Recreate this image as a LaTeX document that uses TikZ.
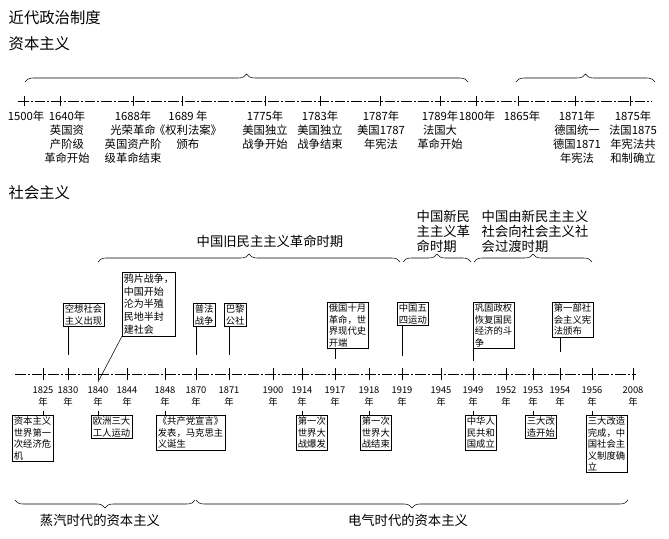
\documentclass[tikz,border=0pt]{standalone}
\usepackage{fontspec}
\setmainfont{Noto Sans CJK SC}
\usetikzlibrary{decorations.pathreplacing}
\tikzset{
  evbox/.style={draw,thin,inner sep=1.2pt,align=left,font=\fontsize{7}{8.6}\selectfont},
  yearlab/.style={align=center,font=\fontsize{7}{9}\selectfont},
  toplab/.style={align=center,font=\fontsize{8.5}{10.5}\selectfont},
  tline/.style={thin,dash pattern=on 8pt off 1.5pt on 1.5pt off 1.5pt},
  upbrace/.style={decorate,decoration={brace,amplitude=6pt},thin},
  dnbrace/.style={decorate,decoration={brace,amplitude=6pt,mirror},thin},
  head/.style={anchor=west,font=\fontsize{11.5}{13}\selectfont},
  perlab/.style={align=left,font=\fontsize{10}{11.2}\selectfont}
}
\begin{document}
\begin{tikzpicture}[x=0.75pt,y=-0.75pt]
  \useasboundingbox (0,0) rectangle (669,539);
  % headings
  \node[head] (h1) at (4,18) {近代政治制度};
  \node[head] (h2) at (4,44) {资本主义};
  \node[head] (h3) at (4,193) {社会主义};

  % capitalism timeline
  \draw[tline] (18,101) -- (652,101);
  \foreach \x in {24,60,133,182,265,320,380,440,476,518,575,630}
    \draw (\x,96) -- (\x,106);
  \node[toplab,anchor=north] (c1500) at (26,106) {1500年};
  \node[toplab,anchor=north] (c1640) at (67,106) {1640年\\英国资\\产阶级\\革命开始};
  \node[toplab,anchor=north] (c1688) at (133,106) {1688年\\光荣革命\\英国资产阶\\级革命结束};
  \node[toplab,anchor=north] (c1689) at (188,106) {1689 年\\《权利法案》\\颁布};
  \node[toplab,anchor=north] (c1775) at (265,106) {1775年\\美国独立\\战争开始};
  \node[toplab,anchor=north] (c1783) at (320,106) {1783年\\美国独立\\战争结束};
  \node[toplab,anchor=north] (c1787) at (381,106) {1787年\\美国1787\\年宪法};
  \node[toplab,anchor=north] (c1789) at (440,106) {1789年\\法国大\\革命开始};
  \node[toplab,anchor=north] (c1800) at (477,106) {1800年};
  \node[toplab,anchor=north] (c1865) at (522,106) {1865年};
  \node[toplab,anchor=north] (c1871) at (577,106) {1871年\\德国统一\\德国1871\\年宪法};
  \node[toplab,anchor=north] (c1875) at (633,106) {1875年\\法国1875\\年宪法共\\和制确立};
  \draw[upbrace] (25,82) -- (468,82);
  \draw[upbrace] (516,82) -- (655,82);

  % socialism timeline
  \draw[tline] (15,374) -- (636,374);
  \foreach \x/\y in {43/1825,68/1830,98/1840,127/1844,165/1848,196/1870,229/1871,273/1900,
      302/1914,335/1917,369/1918,402/1919,441/1945,473/1949,506/1952,533/1953,560/1954,592/1956,633/2008}{
    \draw (\x,368) -- (\x,380);
    \coordinate (t\y) at (\x,374);
    \node[yearlab,anchor=north] (y\y) at (\x,382) {\y\\年};
  }

  % events above
  \node[evbox,anchor=north west] (e1830) at (63,303) {空想社会\\主义出现};
  \node[evbox,anchor=north west,font=\fontsize{7.5}{9.6}\selectfont] (e1840) at (122,272) {鸦片战争，\\中国开始\\沦为半殖\\民地半封\\建社会};
  \node[evbox,anchor=north west] (e1870) at (193,303) {普法\\战争};
  \node[evbox,anchor=north west] (e1871) at (224,303) {巴黎\\公社};
  \node[evbox,anchor=north west] (e1917) at (327,302) {俄国十月\\革命，世\\界现代史\\开端};
  \node[evbox,anchor=north west] (e1919) at (397,302) {中国五\\四运动};
  \node[evbox,anchor=north west] (e1949) at (473,302) {巩固政权\\恢复国民\\经济的斗\\争};
  \node[evbox,anchor=north west] (e1954) at (552,302) {第一部社\\会主义宪\\法颁布};
  \draw (e1830.south -| t1830) -- ++(0,28);
  \draw (e1840.south west) -- ([yshift=-6pt]t1840);
  \draw (e1870.south -| t1870) -- ++(0,28);
  \draw (e1871.south -| t1871) -- ++(0,28);
  \draw (e1917.south -| t1917) -- ++(0,10);
  \draw (e1919.south -| t1919) -- ++(0,30);
  \draw (e1949.south -| t1949) -- ++(0,12);
  \draw (e1954.south -| t1954) -- ++(0,15);

  % events below
  \node[evbox,anchor=north west] (b1825) at (12,415) {资本主义\\世界第一\\次经济危\\机};
  \node[evbox,anchor=north west] (b1840) at (91,415) {欧洲三大\\工人运动};
  \node[evbox,anchor=north west] (b1848) at (156,415) {《共产党宣言》\\发表，马克思主\\义诞生};
  \node[evbox,anchor=north west] (b1914) at (296,415) {第一次\\世界大\\战爆发};
  \node[evbox,anchor=north west] (b1918) at (360,415) {第一次\\世界大\\战结束};
  \node[evbox,anchor=north west] (b1949) at (465,415) {中华人\\民共和\\国成立};
  \node[evbox,anchor=north west] (b1953) at (525,415) {三大改\\造开始};
  \node[evbox,anchor=north west] (b1956) at (586,415) {三大改造\\完成，中\\国社会主\\义制度确\\立};
  \foreach \y in {1825,1840,1848,1914,1918,1949,1953,1956}
    \draw (y\y.south) -- (b\y.north -| y\y);

  % periods
  \draw[upbrace] (98,262) -- (400,262);
  \draw[upbrace] (403,262) -- (471,262);
  \draw[upbrace] (474,262) -- (592,262);
  \node[perlab] (p1) at (270,241) {中国旧民主主义革命时期};
  \node[perlab,anchor=west] (p2) at (412,231) {中国新民\\主主义革\\命时期};
  \node[perlab,anchor=west] (p3) at (477,231) {中国由新民主主义\\社会向社会主义社\\会过渡时期};
  \draw[dnbrace] (15,500) -- (195,500);
  \draw[dnbrace] (196,500) -- (628,500);
  \node[perlab] (s1) at (100,520) {蒸汽时代的资本主义};
  \node[perlab] (s2) at (408,520) {电气时代的资本主义};
\end{tikzpicture}
\end{document}
